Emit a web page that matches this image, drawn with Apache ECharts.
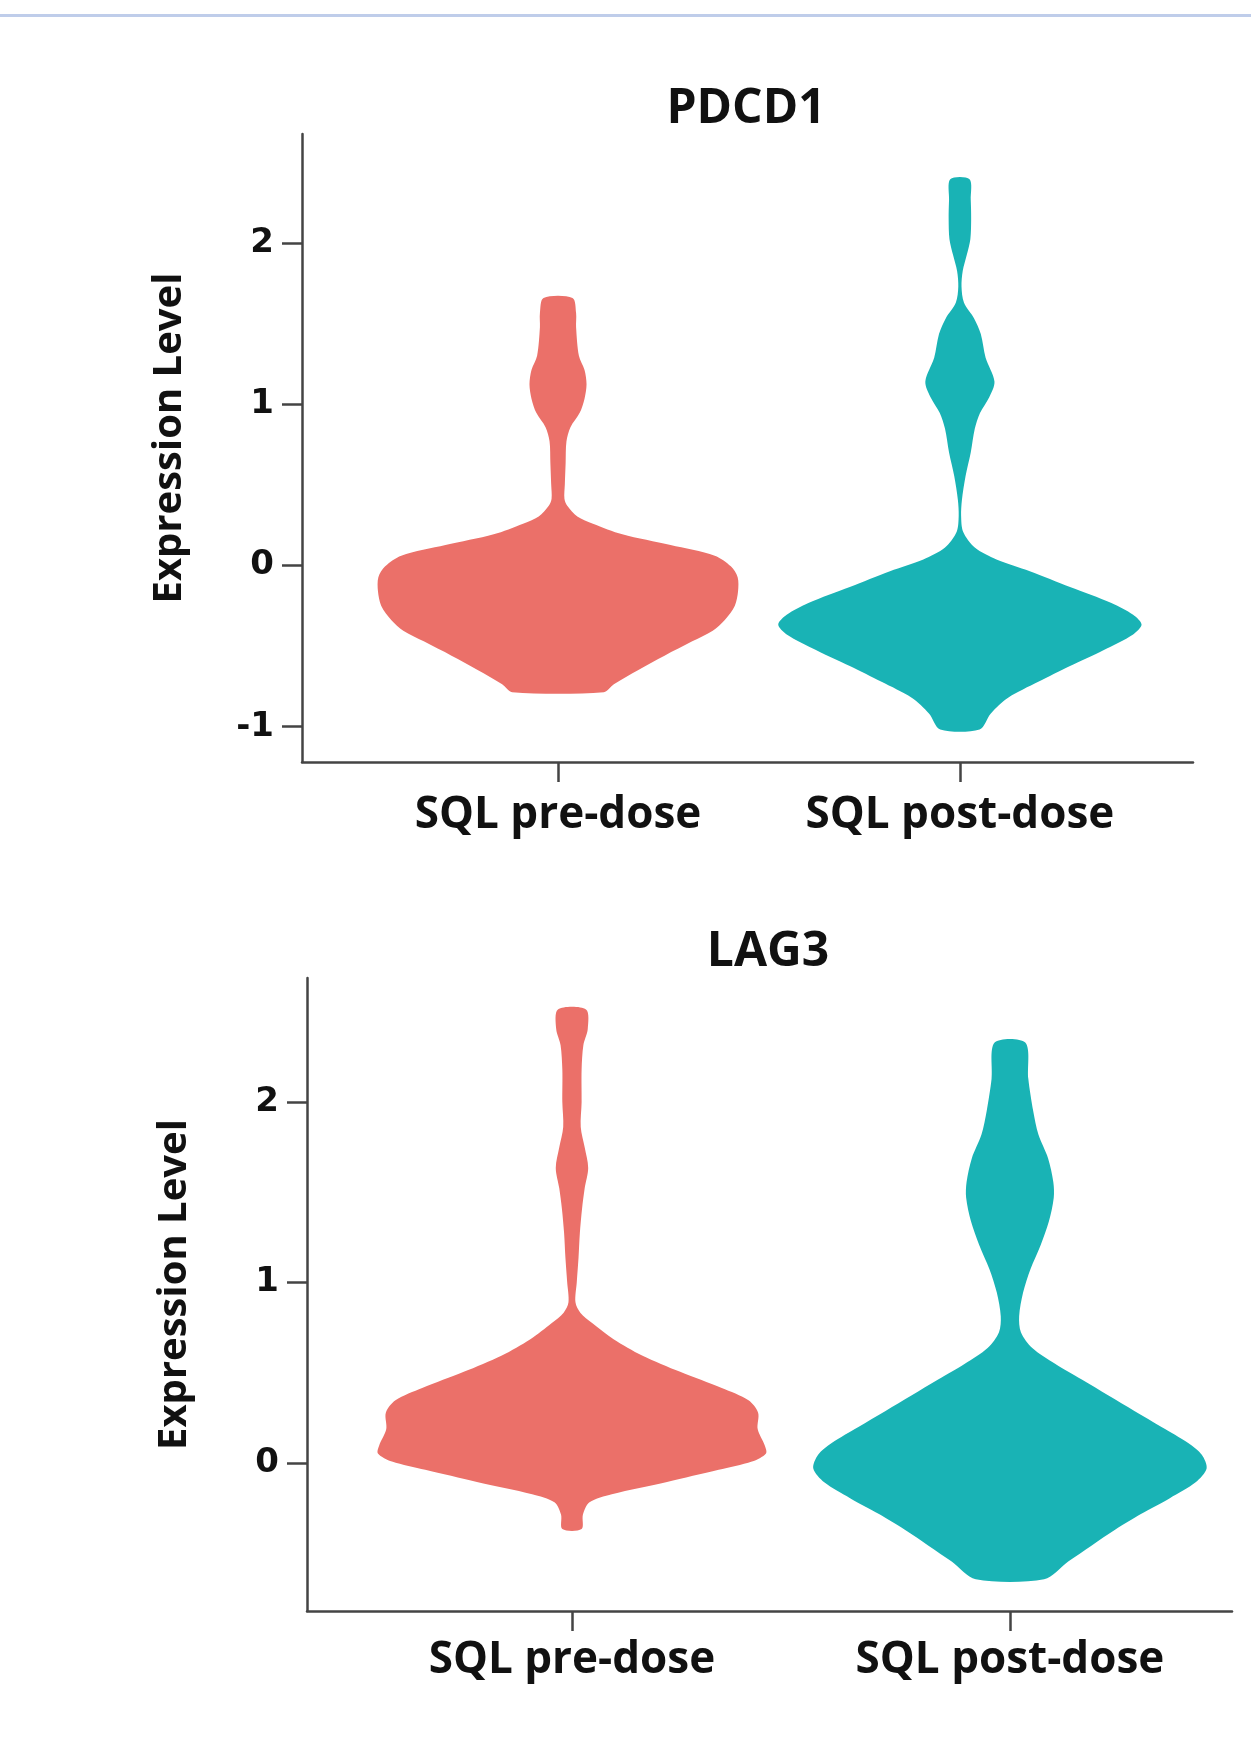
<!DOCTYPE html>
<html>
<head>
<meta charset="utf-8">
<script src="https://cdn.jsdelivr.net/npm/echarts@6/dist/echarts.min.js"></script>
<style>
  html, body { margin: 0; padding: 0; background: #ffffff; }
  #chart { width: 1251px; height: 1756px; }
</style>
</head>
<body>
<div id="chart"></div>
<script>
// ---------------- data ----------------
const categories = ['SQL pre-dose', 'SQL post-dose'];
const panelTitles = ['PDCD1', 'LAG3'];
const yTicksPDCD1 = [-1, 0, 1, 2];
const yTicksLAG3 = [0, 1, 2];
const colors = ['#EB7069', '#19B3B5'];

// PDCD1, SQL pre-dose: expression level and half-width of the violin
const pdcd1PreLevels = [1.658, 1.565, 1.477, 1.30, 1.211, 1.123, 1.034, 0.946, 0.857, 0.769, 0.636, 0.503, 0.414, 0.37, 0.304, 0.259, 0.193, 0.126, 0.06, -0.006, -0.073, -0.161, -0.25, -0.338, -0.405, -0.471, -0.56, -0.648, -0.737, -0.786];
const pdcd1PreWidths = [0.036, 0.045, 0.045, 0.052, 0.066, 0.071, 0.066, 0.054, 0.031, 0.021, 0.019, 0.017, 0.016, 0.023, 0.048, 0.087, 0.16, 0.28, 0.39, 0.43, 0.447, 0.448, 0.44, 0.415, 0.385, 0.334, 0.265, 0.20, 0.139, 0.114];

// PDCD1, SQL post-dose
const pdcd1PostLevels = [2.395, 2.268, 2.146, 2.023, 1.924, 1.826, 1.729, 1.63, 1.533, 1.435, 1.288, 1.141, 1.043, 0.945, 0.847, 0.70, 0.553, 0.406, 0.308, 0.209, 0.111, 0.037, -0.036, -0.134, -0.233, -0.306, -0.367, -0.428, -0.526, -0.624, -0.722, -0.821, -0.918, -1.017];
const pdcd1PostWidths = [0.024, 0.027, 0.028, 0.026, 0.017, 0.007, 0.004, 0.01, 0.035, 0.052, 0.064, 0.086, 0.073, 0.05, 0.037, 0.027, 0.014, 0.005, 0.003, 0.008, 0.037, 0.091, 0.174, 0.274, 0.377, 0.431, 0.452, 0.431, 0.357, 0.274, 0.195, 0.12, 0.077, 0.049];

// LAG3, SQL pre-dose
const lag3PreLevels = [2.513, 2.404, 2.314, 2.178, 1.998, 1.862, 1.749, 1.635, 1.522, 1.409, 1.274, 1.138, 1.003, 0.89, 0.833, 0.776, 0.686, 0.596, 0.505, 0.415, 0.347, 0.279, 0.188, 0.098, 0.053, 0.008, -0.038, -0.105, -0.173, -0.218, -0.286, -0.366];
const lag3PreWidths = [0.032, 0.036, 0.026, 0.022, 0.022, 0.02, 0.029, 0.037, 0.029, 0.023, 0.018, 0.015, 0.011, 0.008, 0.019, 0.046, 0.095, 0.16, 0.247, 0.342, 0.403, 0.425, 0.424, 0.44, 0.443, 0.411, 0.335, 0.217, 0.091, 0.04, 0.025, 0.022];

// LAG3, SQL post-dose
const lag3PostLevels = [2.329, 2.127, 1.952, 1.82, 1.689, 1.557, 1.47, 1.339, 1.207, 1.075, 0.944, 0.813, 0.725, 0.637, 0.55, 0.462, 0.375, 0.287, 0.20, 0.111, 0.046, -0.031, -0.107, -0.195, -0.283, -0.37, -0.458, -0.546, -0.644];
const lag3PostWidths = [0.035, 0.042, 0.053, 0.065, 0.087, 0.099, 0.10, 0.089, 0.070, 0.047, 0.030, 0.021, 0.025, 0.051, 0.103, 0.164, 0.224, 0.285, 0.346, 0.407, 0.438, 0.449, 0.424, 0.365, 0.299, 0.24, 0.186, 0.133, 0.078];

// ---------------- chart ----------------
const chart = echarts.init(document.getElementById('chart'), null, { renderer: 'canvas' });

const AXIS_COLOR = '#444444';
const labelFont = 'Open Sans';

function violinSeries(gridIdx, catPos, levels, widths, color) {
  return {
    type: 'custom',
    xAxisIndex: gridIdx,
    yAxisIndex: gridIdx,
    clip: false,
    silent: true,
    data: [[catPos, levels[0]]],
    renderItem: function (params, api) {
      const right = [], left = [];
      for (let i = 0; i < levels.length; i++) {
        right.push(api.coord([catPos + widths[i], levels[i]]));
        left.push(api.coord([catPos - widths[i], levels[i]]));
      }
      const pts = right.concat(left.reverse());
      return {
        type: 'polygon',
        shape: { points: pts, smooth: 0.3 },
        style: { fill: color, stroke: null }
      };
    }
  };
}

function xAxisCfg(gridIdx, min, max, margin) {
  return {
    gridIndex: gridIdx,
    type: 'value',
    min: min,
    max: max,
    splitLine: { show: false },
    axisLine: { show: true, onZero: false, lineStyle: { color: AXIS_COLOR, width: 2.5 } },
    axisTick: { show: true, customValues: [1, 2], length: 20, lineStyle: { color: AXIS_COLOR, width: 2.5 } },
    axisLabel: {
      show: true,
      customValues: [1, 2],
      margin: margin,
      formatter: function (v) { return categories[Math.round(v) - 1] || ''; },
      fontFamily: labelFont, fontWeight: 'bold', fontSize: 44, color: '#111111'
    }
  };
}

function yAxisCfg(gridIdx, min, max, ticks) {
  return {
    gridIndex: gridIdx,
    type: 'value',
    min: min,
    max: max,
    name: 'Expression Level',
    nameLocation: 'middle',
    nameGap: 112,
    nameTextStyle: { fontFamily: labelFont, fontWeight: 'bold', fontSize: 40, color: '#111111', padding: [0, 0, 0, 20] },
    splitLine: { show: false },
    axisLine: { show: true, onZero: false, lineStyle: { color: AXIS_COLOR, width: 2.5 } },
    axisTick: { show: true, customValues: ticks, length: 20, lineStyle: { color: AXIS_COLOR, width: 2.5 } },
    axisLabel: {
      show: true,
      customValues: ticks,
      margin: 28,
      fontFamily: 'DejaVu Sans', fontWeight: 'bold', fontSize: 34, color: '#111111'
    }
  };
}

const option = {
  backgroundColor: '#ffffff',
  animation: false,
  graphic: [
    { type: 'rect', left: 0, top: 14, shape: { width: 1251, height: 3 }, style: { fill: '#bfcdea' } },
    { type: 'text', x: 746, y: 109, style: { text: panelTitles[0], font: 'bold 48px "Open Sans"', fill: '#111111', align: 'center', verticalAlign: 'middle' } },
    { type: 'text', x: 768, y: 952, style: { text: panelTitles[1], font: 'bold 48px "Open Sans"', fill: '#111111', align: 'center', verticalAlign: 'middle' } }
  ],
  grid: [
    { left: 302, top: 134, width: 891, height: 628 },
    { left: 307, top: 978, width: 925, height: 633 }
  ],
  xAxis: [
    xAxisCfg(0, 0.363, 2.58, 31),
    xAxisCfg(1, 0.395, 2.507, 27)
  ],
  yAxis: [
    yAxisCfg(0, -1.219, 2.675, yTicksPDCD1),
    yAxisCfg(1, -0.82, 2.687, yTicksLAG3)
  ],
  series: [
    violinSeries(0, 1, pdcd1PreLevels, pdcd1PreWidths, colors[0]),
    violinSeries(0, 2, pdcd1PostLevels, pdcd1PostWidths, colors[1]),
    violinSeries(1, 1, lag3PreLevels, lag3PreWidths, colors[0]),
    violinSeries(1, 2, lag3PostLevels, lag3PostWidths, colors[1])
  ]
};

chart.setOption(option);
</script>
</body>
</html>
